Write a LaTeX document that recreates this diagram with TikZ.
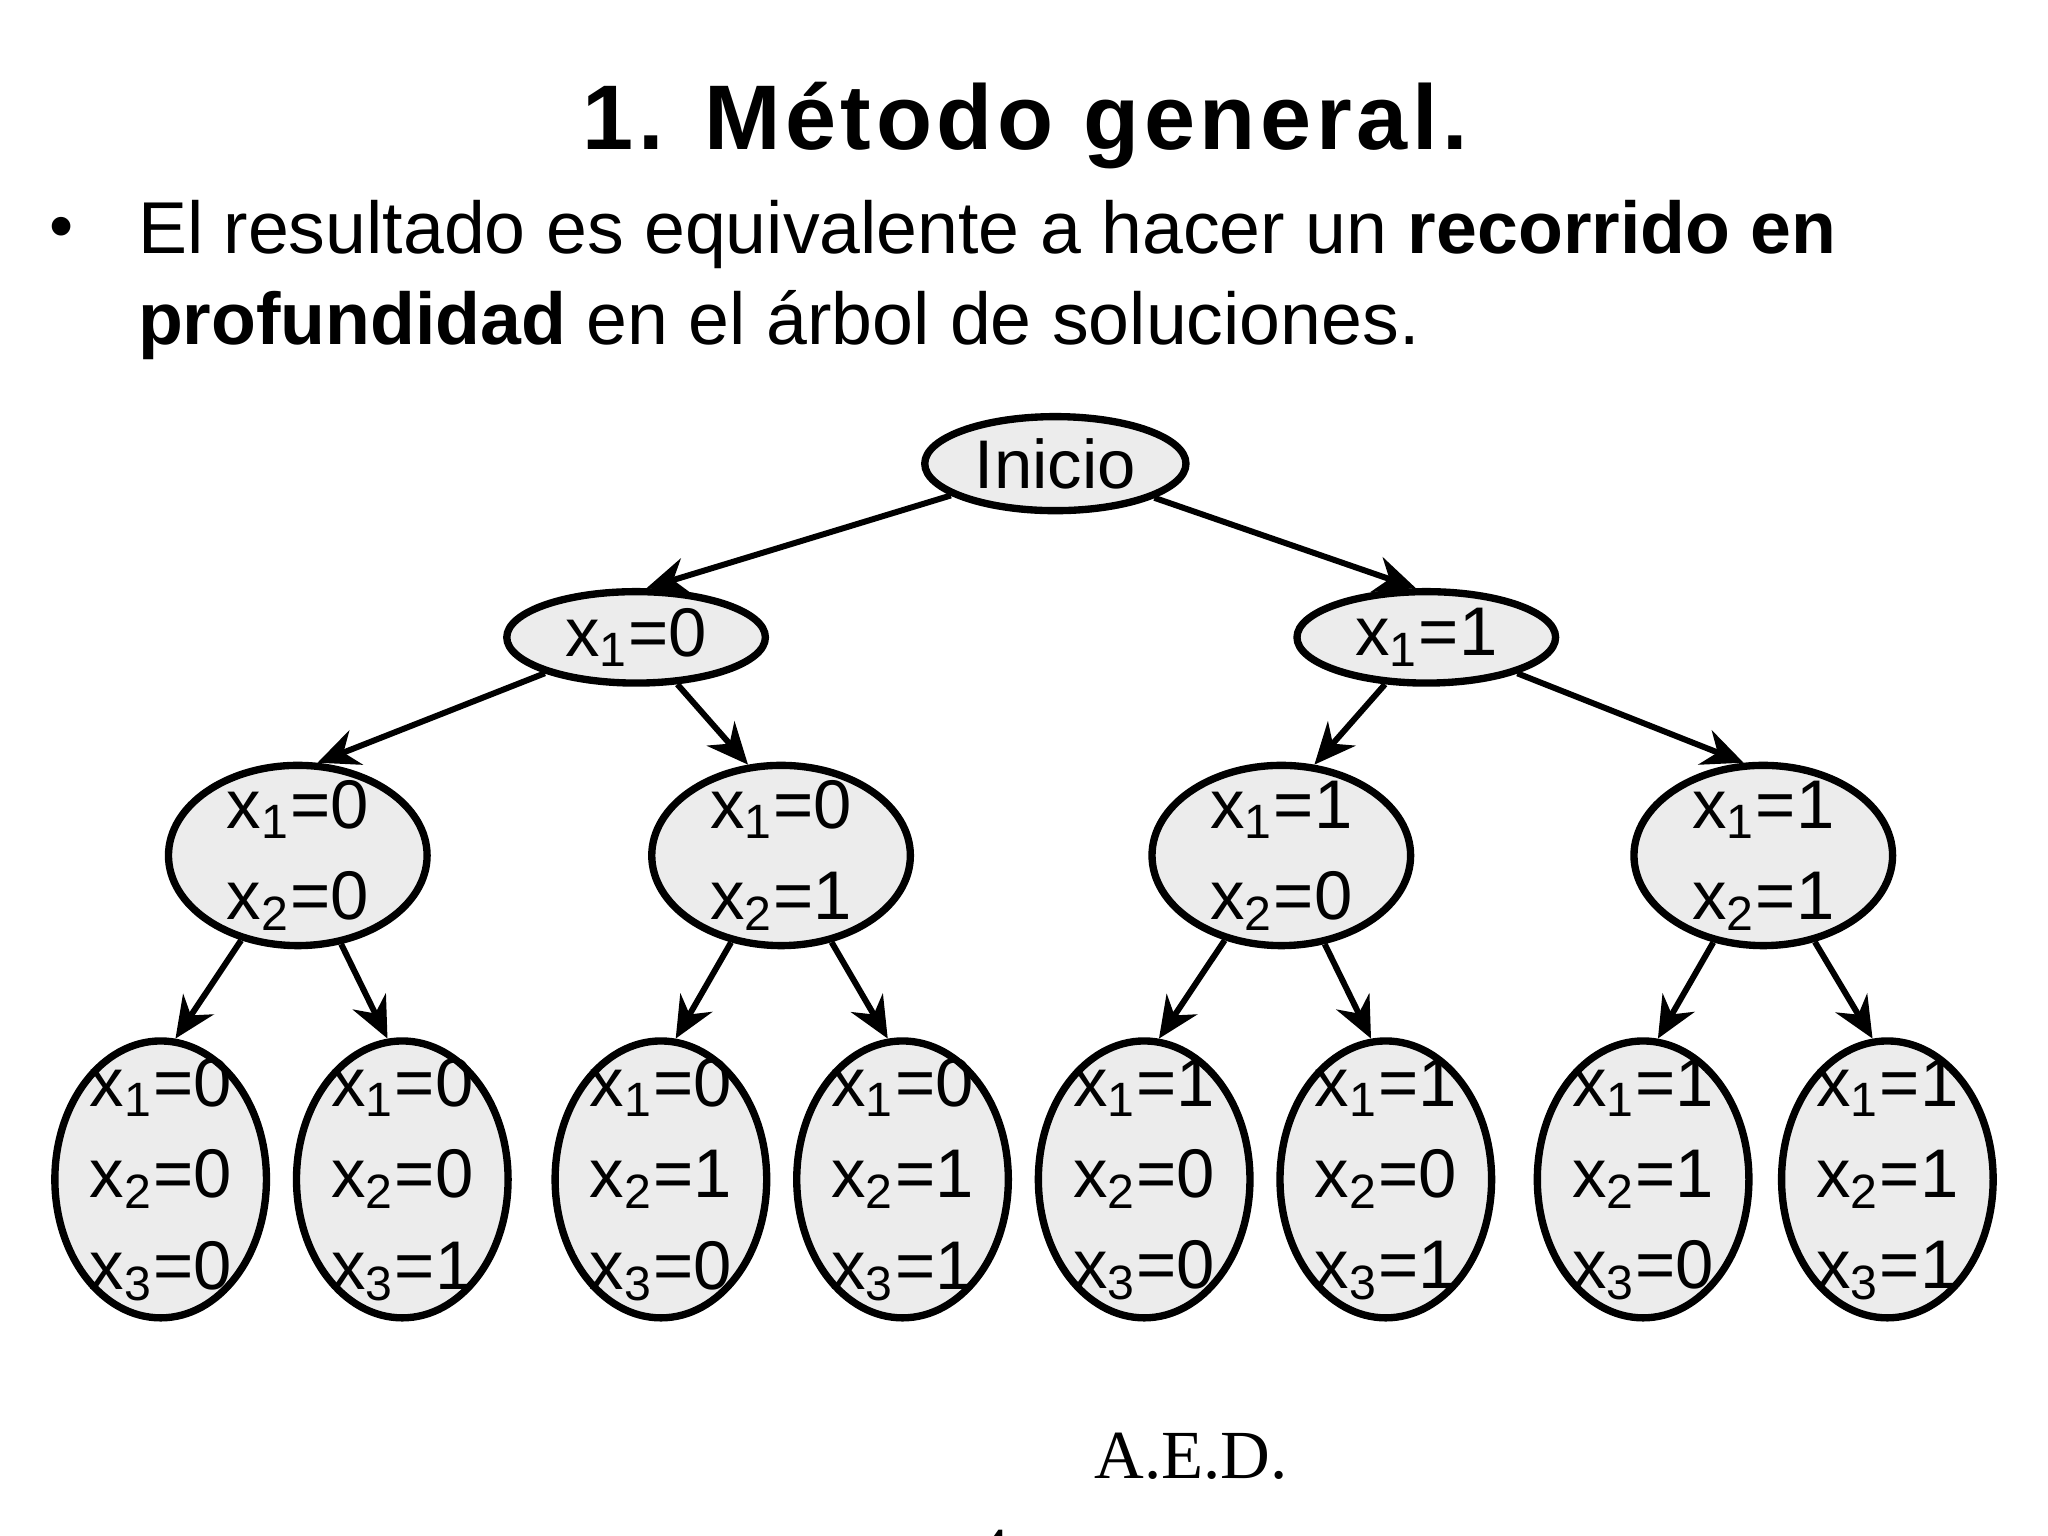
\documentclass[tikz,border=0pt]{standalone}
\usepackage{fontspec}
\setmainfont{Liberation Sans}
\newfontfamily\serifx{Liberation Serif}
\usetikzlibrary{shapes.geometric,arrows.meta}
\tikzset{
 nd/.style={ellipse,draw=black,line width=1.6pt,fill=gray!15,inner sep=0pt},
 l1/.style={nd,minimum width=1.98cm,minimum height=0.70cm},
 l2/.style={nd,minimum width=1.98cm,minimum height=1.38cm},
 l3/.style={nd,minimum width=1.62cm,minimum height=2.12cm},
 tx/.style={font=\fontsize{15}{19.9}\selectfont,align=center,inner sep=0pt},
 ar/.style={line width=1.3pt,-{Stealth[length=9pt,width=8pt]}}
}
\newcommand{\xv}[2]{x\textsubscript{#1}=#2}
\begin{document}
\begin{tikzpicture}
\useasboundingbox (0,0) rectangle (15.68,11.76);
\node[font=\fontsize{20}{22}\selectfont\bfseries] (title) at (7.85,10.8) {\addfontfeature{LetterSpace=5}1. Método general.};
\node[font=\fontsize{15}{16}\selectfont,anchor=base] (bul) at (0.47,9.85) {•};
\node[font=\fontsize{16}{16}\selectfont,anchor=base west,inner sep=0pt] (t1) at (1.05,9.82) {El resultado es equivalente a hacer un \textbf{recorrido en}};
\node[font=\fontsize{16}{16}\selectfont,anchor=base west,inner sep=0pt] (t2) at (1.05,9.12) {\textbf{profundidad} en el árbol de soluciones.};
\node[nd,minimum width=2.0cm,minimum height=0.72cm,font=\fontsize{15}{16}\selectfont] (r) at (8.08,8.21) {Inicio};
\node[l1] (a) at (4.87,6.88) {}; \node[tx] at (a) {\xv{1}{0}};
\node[l1] (b) at (10.92,6.88) {}; \node[tx] at (b) {\xv{1}{1}};
\foreach \n/\x/\p/\q in {c/2.28/0/0,d/5.98/0/1,e/9.81/1/0,f/13.50/1/1}{
 \node[l2] (\n) at (\x,5.21) {};
 \node[tx] at (\n) {\xv{1}{\p}\\\xv{2}{\q}};
}
\foreach \n/\x/\p/\q/\r in {g/1.23/0/0/0,h/3.08/0/0/1,i/5.06/0/1/0,j/6.91/0/1/1,k/8.76/1/0/0,l/10.61/1/0/1,m/12.58/1/1/0,o/14.45/1/1/1}{
 \node[l3] (\n) at (\x,2.73) {};
 \node[tx] at (\n) {\xv{1}{\p}\\\xv{2}{\q}\\\xv{3}{\r}};
}
\draw[ar] (r) -- (a.78); \draw[ar] (r) -- (b.102);
\draw[ar] (a) -- (c.78); \draw[ar] (a) -- (d.110);
\draw[ar] (b) -- (e.70); \draw[ar] (b) -- (f.102);
\draw[ar] (c) -- (g.84); \draw[ar] (c) -- (h.96);
\draw[ar] (d) -- (i.84); \draw[ar] (d) -- (j.96);
\draw[ar] (e) -- (k.84); \draw[ar] (e) -- (l.96);
\draw[ar] (f) -- (m.84); \draw[ar] (f) -- (o.96);
\node[font=\fontsize{15}{16}\selectfont\serifx] (aed) at (9.12,0.61) {A.E.D.};
\node[font=\fontsize{15}{16}\selectfont\serifx,anchor=base] (pg) at (7.6,-0.3) {4};
\end{tikzpicture}
\end{document}
